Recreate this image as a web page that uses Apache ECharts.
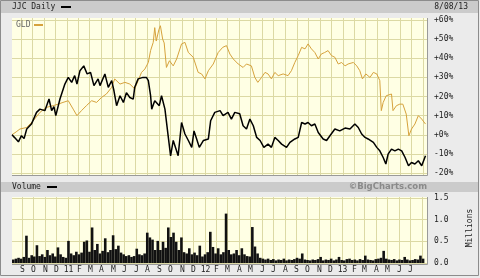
<!DOCTYPE html>
<html><head><meta charset="utf-8">
<script src="https://cdn.jsdelivr.net/npm/echarts@6/dist/echarts.min.js"></script>
<style>html,body{margin:0;padding:0;background:#ebebeb}#c{width:480px;height:278px}</style>
</head><body><div id="c"></div><script>
// ---------- data ----------
const jjcDates = ["2010-08-09","2010-08-16","2010-08-26","2010-09-03","2010-09-10","2010-09-17","2010-09-30","2010-10-13","2010-10-22","2010-11-04","2010-11-15","2010-11-22","2010-11-28","2010-12-03","2010-12-14","2010-12-27","2011-01-05","2011-01-14","2011-01-22","2011-01-28","2011-02-05","2011-02-15","2011-02-24","2011-03-05","2011-03-14","2011-03-25","2011-03-30","2011-04-12","2011-04-21","2011-04-30","2011-05-06","2011-05-13","2011-05-22","2011-05-31","2011-06-08","2011-06-17","2011-06-26","2011-06-30","2011-07-09","2011-07-22","2011-07-31","2011-08-05","2011-08-11","2011-08-14","2011-08-22","2011-09-03","2011-09-09","2011-09-18","2011-09-27","2011-10-03","2011-10-10","2011-10-23","2011-11-01","2011-11-10","2011-11-19","2011-11-28","2011-12-04","2011-12-11","2011-12-18","2011-12-29","2012-01-11","2012-01-17","2012-01-28","2012-02-11","2012-02-19","2012-03-03","2012-03-12","2012-03-21","2012-04-03","2012-04-12","2012-04-21","2012-04-30","2012-05-09","2012-05-18","2012-05-27","2012-06-06","2012-06-17","2012-06-26","2012-07-05","2012-07-14","2012-07-23","2012-08-05","2012-08-14","2012-08-27","2012-09-05","2012-09-14","2012-09-23","2012-10-01","2012-10-10","2012-10-19","2012-10-28","2012-11-10","2012-11-19","2012-11-28","2012-12-11","2012-12-24","2013-01-07","2013-01-20","2013-02-02","2013-02-11","2013-02-20","2013-03-01","2013-03-09","2013-03-23","2013-04-01","2013-04-09","2013-04-18","2013-04-25","2013-05-01","2013-05-10","2013-05-19","2013-05-28","2013-06-06","2013-06-15","2013-06-24","2013-07-02","2013-07-11","2013-07-20","2013-07-29","2013-08-08"];
const jjcValues = [0,-1.5,-3.7,-0.5,-2,3,5.8,11.7,13.4,12.6,18.7,12.6,14.7,10,18.7,26.5,30,27.4,30.9,26.5,33.5,36,31.8,32.6,25.7,29.2,25.7,31.8,24.8,28.3,23,15.2,20.4,16.9,22,19.5,18.6,24.8,29.2,30,30,28.3,20.4,13.4,17.8,15.2,20.4,13.4,-1.4,-11,-3,-11,6.4,0.4,-3,-6.6,2,-2.2,-6.6,-3,-2.2,7.3,11.7,12.6,10,11.7,8.2,11.7,11,4.7,3,8.2,4.7,-1.4,-3,-6.6,-4.9,-6.6,-1.4,-3,-4.9,-6.6,-4,-2.2,-1.4,6.4,5.6,6.4,4.7,5.6,1.2,-2.2,-3,-0.5,3,2,3.5,3,5.6,3.8,0.4,-1.4,-2.2,-4,-6.6,-8.4,-11.9,-15.3,-10.1,-7.5,-8.4,-7.5,-8.4,-11.9,-16.2,-14.5,-15.3,-13.6,-16.2,-11];

const gldDates = ["2010-08-09","2010-08-20","2010-08-30","2010-09-17","2010-10-04","2010-10-22","2010-11-08","2010-11-26","2010-12-09","2010-12-22","2011-01-05","2011-01-18","2011-01-28","2011-02-09","2011-02-22","2011-03-08","2011-03-21","2011-04-03","2011-04-16","2011-04-30","2011-05-08","2011-05-22","2011-06-04","2011-06-17","2011-06-30","2011-07-09","2011-07-18","2011-07-27","2011-08-05","2011-08-11","2011-08-18","2011-08-22","2011-08-26","2011-09-02","2011-09-06","2011-09-12","2011-09-16","2011-09-22","2011-09-30","2011-10-10","2011-10-19","2011-11-01","2011-11-10","2011-11-19","2011-12-02","2011-12-15","2011-12-24","2012-01-02","2012-01-11","2012-01-24","2012-02-06","2012-02-18","2012-02-28","2012-03-08","2012-03-17","2012-03-30","2012-04-12","2012-04-21","2012-05-04","2012-05-13","2012-05-21","2012-05-31","2012-06-09","2012-06-17","2012-06-26","2012-07-05","2012-07-14","2012-07-27","2012-08-09","2012-08-18","2012-08-27","2012-09-05","2012-09-14","2012-09-23","2012-10-01","2012-10-10","2012-10-19","2012-10-28","2012-11-05","2012-11-14","2012-11-23","2012-12-02","2012-12-11","2012-12-20","2012-12-29","2013-01-07","2013-01-15","2013-01-29","2013-02-07","2013-02-15","2013-02-22","2013-03-03","2013-03-14","2013-03-23","2013-04-01","2013-04-09","2013-04-13","2013-04-18","2013-04-26","2013-05-10","2013-05-14","2013-05-23","2013-06-01","2013-06-09","2013-06-18","2013-06-25","2013-07-02","2013-07-11","2013-07-20","2013-07-29","2013-08-08"];
const gldValues = [0,1.5,3,3.8,7.3,11.7,14.3,15.2,16,16.9,17.8,13.4,10,12.6,15.2,17.8,16.9,19.5,21.3,24.8,29.2,26.5,27.4,26.5,24,28.3,32.6,34.4,37.8,44,48.3,56,49,55,57,50,48,35.2,38.7,36,39.6,47.5,48.3,43,40.5,32.6,31.8,29.2,33.5,37,43,45.7,46.6,42.2,39.6,37,35.2,37,36,30,27.4,30,32.6,31.8,29.2,32.6,30.9,31.8,30.9,33.5,37.8,41.4,45.7,44.9,47.5,44.9,43,39.6,42.2,43,44,41.4,40.5,37,37.8,36,37,37.8,36,33.5,29.2,31.8,30,32.6,31.8,28.3,12.6,16.9,20.4,21.3,12.6,15.2,16,16,10.8,-0.5,3,5.6,10,8.2,5.6];

const volDates = ("2010-08-09 2010-08-16 2010-08-23 2010-08-30 2010-09-06 2010-09-13 2010-09-20 2010-09-27 2010-10-04 2010-10-11 2010-10-18 2010-10-25 2010-11-01 2010-11-08 2010-11-15 2010-11-22 2010-11-29 2010-12-06 2010-12-13 2010-12-20 2010-12-27 " +
 "2011-01-03 2011-01-10 2011-01-17 2011-01-24 2011-01-31 2011-02-07 2011-02-14 2011-02-21 2011-02-28 2011-03-07 2011-03-14 2011-03-21 2011-03-28 2011-04-04 2011-04-11 2011-04-18 2011-04-25 2011-05-02 2011-05-09 2011-05-16 2011-05-23 2011-05-30 2011-06-06 2011-06-13 2011-06-20 2011-06-27 2011-07-04 2011-07-11 2011-07-18 2011-07-25 2011-08-01 2011-08-08 2011-08-15 2011-08-22 2011-08-29 2011-09-05 2011-09-12 2011-09-19 2011-09-26 2011-10-03 2011-10-10 2011-10-17 2011-10-24 2011-10-31 2011-11-07 2011-11-14 2011-11-21 2011-11-28 2011-12-05 2011-12-12 2011-12-19 2011-12-26 " +
 "2012-01-02 2012-01-09 2012-01-16 2012-01-23 2012-01-30 2012-02-06 2012-02-13 2012-02-20 2012-02-27 2012-03-05 2012-03-12 2012-03-19 2012-03-26 2012-04-02 2012-04-09 2012-04-16 2012-04-23 2012-04-30 2012-05-07 2012-05-14 2012-05-21 2012-05-28 2012-06-04 2012-06-11 2012-06-18 2012-06-25 2012-07-02 2012-07-09 2012-07-16 2012-07-23 2012-07-30 2012-08-06 2012-08-13 2012-08-20 2012-08-27 2012-09-03 2012-09-10 2012-09-17 2012-09-24 2012-10-01 2012-10-08 2012-10-15 2012-10-22 2012-10-29 2012-11-05 2012-11-12 2012-11-19 2012-11-26 2012-12-03 2012-12-10 2012-12-17 2012-12-24 2012-12-31 " +
 "2013-01-07 2013-01-14 2013-01-21 2013-01-28 2013-02-04 2013-02-11 2013-02-18 2013-02-25 2013-03-04 2013-03-11 2013-03-18 2013-03-25 2013-04-01 2013-04-08 2013-04-15 2013-04-22 2013-04-29 2013-05-06 2013-05-13 2013-05-20 2013-05-27 2013-06-03 2013-06-10 2013-06-17 2013-06-24 2013-07-01 2013-07-08 2013-07-15 2013-07-22 2013-07-29 2013-08-05").split(" ");
const volValues = [0.08,0.1,0.12,0.1,0.14,0.63,0.12,0.18,0.15,0.41,0.16,0.2,0.14,0.3,0.18,0.22,0.15,0.36,0.2,0.14,0.12,
 0.51,0.22,0.18,0.26,0.2,0.24,0.49,0.52,0.26,0.82,0.3,0.44,0.22,0.28,0.57,0.25,0.3,0.64,0.32,0.4,0.24,0.2,0.16,0.18,0.14,0.16,0.33,0.2,0.18,0.22,0.7,0.59,0.54,0.3,0.51,0.3,0.49,0.35,0.82,0.6,0.7,0.49,0.3,0.59,0.25,0.22,0.34,0.2,0.24,0.18,0.4,0.15,
 0.2,0.25,0.72,0.37,0.22,0.34,0.2,0.25,1.14,0.3,0.2,0.22,0.3,0.18,0.34,0.2,0.16,0.15,0.83,0.38,0.22,0.12,0.1,0.08,0.1,0.07,0.09,0.06,0.08,0.07,0.1,0.06,0.08,0.07,0.09,0.12,0.1,0.22,0.08,0.07,0.06,0.08,0.07,0.09,0.14,0.06,0.08,0.07,0.1,0.06,0.08,0.14,0.07,
 0.06,0.09,0.1,0.07,0.08,0.06,0.09,0.07,0.17,0.08,0.07,0.06,0.09,0.1,0.12,0.28,0.1,0.08,0.07,0.09,0.06,0.08,0.07,0.14,0.08,0.06,0.07,0.09,0.08,0.17,0.1];

const monthDates = ["2010-09-01","2010-10-01","2010-11-01","2010-12-01","2011-01-01","2011-02-01","2011-03-01","2011-04-01","2011-05-01","2011-06-01","2011-07-01","2011-08-01","2011-09-01","2011-10-01","2011-11-01","2011-12-01","2012-01-01","2012-02-01","2012-03-01","2012-04-01","2012-05-01","2012-06-01","2012-07-01","2012-08-01","2012-09-01","2012-10-01","2012-11-01","2012-12-01","2013-01-01","2013-02-01","2013-03-01","2013-04-01","2013-05-01","2013-06-01","2013-07-01","2013-08-01"];
const monthLabels = ["S","O","N","D","11","F","M","A","M","J","J","A","S","O","N","D","12","F","M","A","M","J","J","A","S","O","N","D","13","F","M","A","M","J","J",""];

// ---------- styles ----------
const MONO = '"DejaVu Sans Mono","Liberation Mono",monospace';
const GRID_C = '#dcd9a4';
const BG = '#ffffe4';
const GOLD = '#d6a23c';
const X_MIN = '2010-08-09', X_MAX = '2013-08-12';

function monthLines(idx, withLabels, ext) {
  return {
    type: 'custom', xAxisIndex: idx, yAxisIndex: idx, silent: true, clip: false, z: 1,
    data: monthDates.map((d, i) => [d, i]),
    renderItem: (params, api) => {
      const cs = params.coordSys;
      const x = Math.round(api.coord([api.value(0), 0])[0]) + 0.5;
      const ch = [{type: 'line', shape: {x1: x, y1: cs.y - ext, x2: x, y2: cs.y + cs.height + ext},
        style: {stroke: GRID_C, lineWidth: 1}}];
      if (withLabels) ch.push({type: 'text', style: {text: monthLabels[api.value(1)], x: x, y: cs.y + cs.height + 7,
        align: 'center', verticalAlign: 'middle', font: '8px ' + MONO, fill: '#222'}});
      return {type: 'group', children: ch};
    }
  };
}

const axLabel = {margin: 7, fontFamily: MONO, fontSize: 8, color: '#222', align: 'left'};
const chart = echarts.init(document.getElementById('c'));
chart.setOption({
  animation: false,
  backgroundColor: '#ebebeb',
  grid: [{left: 12, right: 53, top: 20, height: 153}, {left: 12, right: 53, top: 198, height: 65}],
  xAxis: [
    {type: 'time', gridIndex: 0, min: X_MIN, max: X_MAX, show: false},
    {type: 'time', gridIndex: 1, min: X_MIN, max: X_MAX, show: false}
  ],
  yAxis: [
    {type: 'value', gridIndex: 0, position: 'right', min: -20, max: 60, interval: 10,
      axisLine: {show: false}, axisTick: {show: false},
      axisLabel: Object.assign({formatter: v => (v >= 0 ? '+' : '') + v + '%'}, axLabel),
      splitLine: {lineStyle: {color: GRID_C}}},
    {type: 'value', gridIndex: 1, position: 'right', min: 0, max: 1.5, interval: 0.5,
      axisLine: {show: false}, axisTick: {show: false},
      axisLabel: Object.assign({formatter: v => v.toFixed(1)}, axLabel),
      splitLine: {lineStyle: {color: GRID_C}}}
  ],
  graphic: [
    {type: 'rect', z: -10, shape: {x: 0.5, y: 0.5, width: 478, height: 275}, style: {fill: '#ebebeb', stroke: '#8c8c8c'}},
    {type: 'rect', z: -9, shape: {x: 1, y: 1, width: 477, height: 12}, style: {fill: '#cbcbcb'}},
    {type: 'rect', z: -9, shape: {x: 1, y: 182, width: 477, height: 10}, style: {fill: '#cbcbcb'}},
    {type: 'rect', z: -9, shape: {x: 12, y: 18, width: 415, height: 157}, style: {fill: BG}},
    {type: 'rect', z: -9, shape: {x: 12, y: 197, width: 415, height: 67}, style: {fill: BG}},
    {type: 'polyline', z: 5, shape: {points: [[12, 175.5], [427.5, 175.5], [427.5, 18]]}, style: {stroke: '#9a9a9a', fill: null}},
    {type: 'polyline', z: 5, shape: {points: [[12, 264.5], [427.5, 264.5], [427.5, 197]]}, style: {stroke: '#9a9a9a', fill: null}},
    {type: 'text', z: 5, style: {text: 'JJC Daily', x: 12, y: 7, verticalAlign: 'middle', font: '8px ' + MONO, fill: '#222'}},
    {type: 'rect', z: 5, shape: {x: 61, y: 6, width: 10, height: 2}, style: {fill: '#000'}},
    {type: 'text', z: 5, style: {text: '8/08/13', x: 468, y: 7, align: 'right', verticalAlign: 'middle', font: '8px ' + MONO, fill: '#222'}},
    {type: 'text', z: 5, style: {text: 'GLD', x: 16, y: 25, verticalAlign: 'middle', font: '8px ' + MONO, fill: '#666'}},
    {type: 'rect', z: 5, shape: {x: 34, y: 24, width: 9, height: 2}, style: {fill: GOLD}},
    {type: 'text', z: 5, style: {text: 'Volume', x: 12, y: 187, verticalAlign: 'middle', font: '8px ' + MONO, fill: '#222'}},
    {type: 'rect', z: 5, shape: {x: 47, y: 186, width: 10, height: 2}, style: {fill: '#000'}},
    {type: 'text', z: 5, style: {text: '\u00a9BigCharts.com', x: 427, y: 187, align: 'right', verticalAlign: 'middle', font: 'bold 8.5px "DejaVu Sans",sans-serif', fill: '#8a8a8a'}},
    {type: 'text', z: 5, x: 470, y: 228, rotation: Math.PI / 2, style: {text: 'Millions', x: 0, y: 0, align: 'center', verticalAlign: 'middle', font: '8px ' + MONO, fill: '#222'}}
  ],
  series: [
    monthLines(0, false, 2),
    monthLines(1, true, 1),
    {type: 'line', xAxisIndex: 0, yAxisIndex: 0, name: 'GLD', showSymbol: false, z: 3,
      data: gldDates.map((d, i) => [d, gldValues[i]]), lineStyle: {color: GOLD, width: 1}},
    {type: 'line', xAxisIndex: 0, yAxisIndex: 0, name: 'JJC', showSymbol: false, z: 4,
      data: jjcDates.map((d, i) => [d, jjcValues[i]]), lineStyle: {color: '#000', width: 1.5}},
    {type: 'bar', xAxisIndex: 1, yAxisIndex: 1, name: 'Volume', barWidth: 2.6, z: 3,
      data: volDates.map((d, i) => [d, volValues[i]]), itemStyle: {color: '#111'}}
  ]
});
</script></body></html>
